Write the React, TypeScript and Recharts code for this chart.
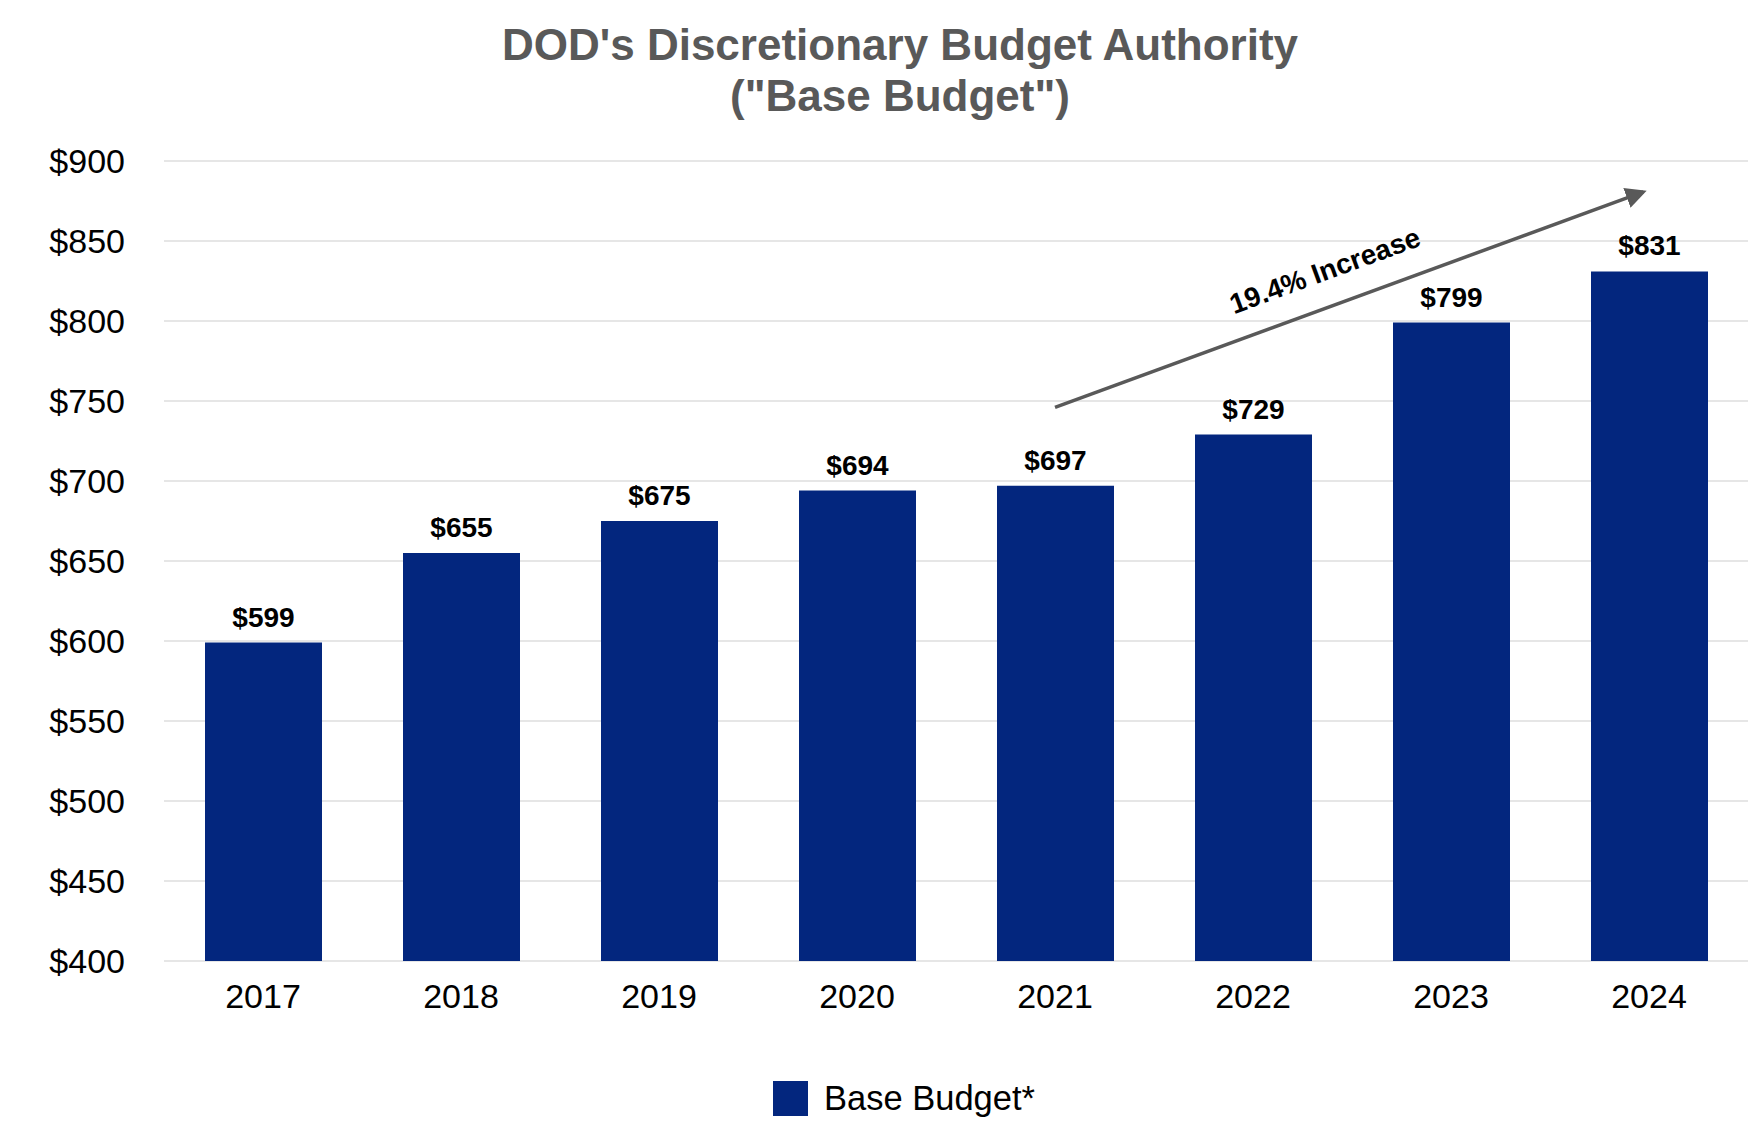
import { BarChart, Bar, XAxis, YAxis, CartesianGrid, LabelList, Legend, ReferenceLine } from 'recharts'

const years = ['2017', '2018', '2019', '2020', '2021', '2022', '2023', '2024']
const baseBudget = [599, 655, 675, 694, 697, 729, 799, 831]
const yTicks = [400, 450, 500, 550, 600, 650, 700, 750, 800, 850, 900]

// trend arrow, in data units
const arrowFrom = { x: '2021', y: 746 }
const arrowTo = { x: '2024', y: 882 }
const arrowText = '19.4% Increase'

const data = years.map((year, i) => ({ year, base: baseBudget[i] }))

const FONT = '"Liberation Sans", Arial, sans-serif'
const NAVY = '#03267E'
const GREY = '#595959'

function ArrowShape(props: any) {
    const { x1, y1, x2, y2 } = props
    if ([x1, y1, x2, y2].some((v) => typeof v !== 'number')) return null
    const angle = Math.atan2(y2 - y1, x2 - x1)
    const deg = (angle * 180) / Math.PI
    const t = 0.475
    const mx = x1 + (x2 - x1) * t
    const my = y1 + (y2 - y1) * t
    // push the text off the line, perpendicular
    const off = 26
    const tx = mx + Math.sin(angle) * off
    const ty = my - Math.cos(angle) * off
    return (
        <g>
            <defs>
                <marker id="arrowHead" markerWidth="6" markerHeight="6" refX="5" refY="3" orient="auto" markerUnits="strokeWidth">
                    <path d="M0,0 L6,3 L0,6 z" fill={GREY} />
                </marker>
            </defs>
            <line x1={x1} y1={y1} x2={x2 - Math.cos(angle) * 6} y2={y2 - Math.sin(angle) * 6} stroke={GREY} strokeWidth={3.5} markerEnd="url(#arrowHead)" />
            <text
                x={tx}
                y={ty}
                transform={`rotate(${deg} ${tx} ${ty})`}
                textAnchor="middle"
                fontFamily={FONT}
                fontWeight="bold"
                fontSize={28}
                fill="#000"
            >
                {arrowText}
            </text>
        </g>
    )
}

function LegendContent() {
    return (
        <div style={{ display: 'flex', justifyContent: 'center', alignItems: 'center', fontFamily: FONT, height: 40, paddingLeft: 44 }}>
            <span style={{ display: 'inline-block', width: 35, height: 35, background: NAVY, marginRight: 16 }} />
            <span style={{ fontSize: 34.5, color: '#000' }}>Base Budget*</span>
        </div>
    )
}

export default function App() {
    return (
        <div style={{ position: 'absolute', left: 0, top: 0, width: 1764, height: 1134, background: '#fff', fontFamily: FONT }}>
            <div
                style={{
                    position: 'absolute',
                    left: 18,
                    top: 19,
                    width: 1764,
                    textAlign: 'center',
                    color: GREY,
                    fontWeight: 'bold',
                    fontSize: 44,
                    lineHeight: '51px',
                }}
            >
                <div>DOD's Discretionary Budget Authority</div>
                <div>("Base Budget")</div>
            </div>
            <BarChart
                width={1764}
                height={1134}
                data={data}
                margin={{ top: 161, right: 16, bottom: 73, left: 0 }}
                style={{ position: 'absolute', left: 0, top: 0 }}
            >
                <CartesianGrid vertical={false} stroke="#E6E6E6" strokeWidth={2} />
                <XAxis
                    dataKey="year"
                    axisLine={false}
                    tickLine={false}
                    height={60}
                    tickMargin={17}
                    tick={{ fill: '#000', fontSize: 34, fontFamily: FONT }}
                />
                <YAxis
                    width={164}
                    domain={[400, 900]}
                    ticks={yTicks}
                    axisLine={false}
                    tickLine={false}
                    tickSize={0}
                    tickMargin={39}
                    tickFormatter={(v: number) => `$${v}`}
                    tick={{ fill: '#000', fontSize: 34, fontFamily: FONT }}
                />
                <Legend
                    verticalAlign="bottom"
                    content={() => <LegendContent />}
                    wrapperStyle={{ top: 1078, left: 0, width: 1764, height: 40 }}
                />
                <Bar dataKey="base" name="Base Budget*" fill={NAVY} barSize={117} isAnimationActive={false}>
                    <LabelList
                        dataKey="base"
                        position="top"
                        offset={16}
                        formatter={(v: any) => `$${v}`}
                        style={{ fill: '#000', fontSize: 28, fontWeight: 'bold', fontFamily: FONT }}
                    />
                </Bar>
                <ReferenceLine
                    segment={[arrowFrom, arrowTo]}
                    shape={ArrowShape}
                    ifOverflow="visible"
                />
            </BarChart>
        </div>
    )
}
